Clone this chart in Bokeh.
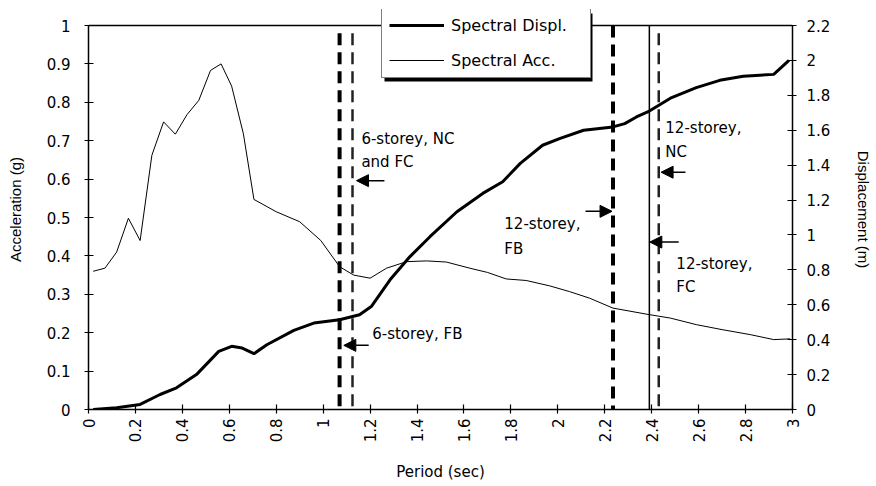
import math
from bokeh.plotting import figure
from bokeh.models import (Range1d, LinearAxis, FixedTicker, Legend, LegendItem,
                          Arrow, NormalHead, Label, BoxAnnotation)
from bokeh.embed import file_html
from bokeh.resources import INLINE

# ---------------- data ----------------
PERIOD_ACC = [0.02, 0.07, 0.12, 0.17, 0.22, 0.27, 0.32, 0.37, 0.42, 0.47, 0.52,
              0.565, 0.61, 0.66, 0.705, 0.80, 0.90, 0.99, 1.07, 1.13, 1.20,
              1.27, 1.355, 1.44, 1.525, 1.625, 1.70, 1.78, 1.865, 1.965, 2.05,
              2.135, 2.235, 2.39, 2.48, 2.59, 2.70, 2.82, 2.92, 2.99]
ACC = [0.36, 0.368, 0.41, 0.498, 0.44, 0.662, 0.749, 0.717, 0.768, 0.805, 0.883,
       0.90, 0.842, 0.718, 0.547, 0.515, 0.489, 0.44, 0.372, 0.35, 0.342,
       0.368, 0.385, 0.387, 0.384, 0.368, 0.357, 0.34, 0.336, 0.322, 0.307,
       0.29, 0.264, 0.247, 0.238, 0.221, 0.208, 0.195, 0.182, 0.184]

PERIOD_DISP = [0.02, 0.12, 0.22, 0.305, 0.375, 0.46, 0.555, 0.61, 0.655, 0.705,
               0.76, 0.875, 0.96, 1.07, 1.155, 1.205, 1.285, 1.37, 1.455, 1.57,
               1.68, 1.765, 1.84, 1.935, 2.01, 2.11, 2.235, 2.285, 2.335, 2.39,
               2.485, 2.59, 2.69, 2.79, 2.92, 2.985]
DISP = [0.0, 0.01, 0.029, 0.086, 0.124, 0.2, 0.333, 0.362, 0.352, 0.32,
        0.371, 0.453, 0.495, 0.514, 0.543, 0.59, 0.743, 0.876, 0.99, 1.133,
        1.238, 1.305, 1.41, 1.514, 1.553, 1.6, 1.619, 1.638, 1.676, 1.71,
        1.787, 1.844, 1.886, 1.909, 1.92, 2.0]

SERIES_NAMES = ["Spectral Displ.", "Spectral Acc."]

X_TICKS = [0, 0.2, 0.4, 0.6, 0.8, 1, 1.2, 1.4, 1.6, 1.8, 2, 2.2, 2.4, 2.6, 2.8, 3]
X_TICK_LABELS = ["0", "0.2", "0.4", "0.6", "0.8", "1", "1.2", "1.4", "1.6", "1.8",
                 "2", "2.2", "2.4", "2.6", "2.8", "3"]
ACC_TICKS = [0, 0.1, 0.2, 0.3, 0.4, 0.5, 0.6, 0.7, 0.8, 0.9, 1]
ACC_TICK_LABELS = ["0", "0.1", "0.2", "0.3", "0.4", "0.5", "0.6", "0.7", "0.8", "0.9", "1"]
DISP_TICKS = [0, 0.2, 0.4, 0.6, 0.8, 1, 1.2, 1.4, 1.6, 1.8, 2, 2.2]
DISP_TICK_LABELS = ["0", "0.2", "0.4", "0.6", "0.8", "1", "1.2", "1.4", "1.6", "1.8", "2", "2.2"]

X_MAX = 3
ACC_MAX = 1
DISP_MAX = 2.2

# building periods (vertical markers)
T_6_FB = 1.07
T_6_NC_FC = 1.125
T_12_FB = 2.235
T_12_FC = 2.39
T_12_NC = 2.43

FONT = "DejaVu Sans"
AXIS_FONT = "Liberation Sans"

# frame extends 16 px above the plot box so the legend can overhang the top edge
HEAD = 400 / 384

# ---------------- figure ----------------
p = figure(width=876, height=486, output_backend="svg", toolbar_location=None,
           x_range=Range1d(0, X_MAX), y_range=Range1d(0, ACC_MAX * HEAD),
           min_border_left=88, min_border_right=84, min_border_top=9,
           min_border_bottom=77, background_fill_color="white",
           border_fill_color="white")
p.extra_y_ranges = {"disp": Range1d(0, DISP_MAX * HEAD)}
p.xgrid.visible = False
p.ygrid.visible = False
p.outline_line_color = None

right_axis = LinearAxis(y_range_name="disp")
p.add_layout(right_axis, "right")

def style_axis(ax, ticks, labels):
    ax.ticker = FixedTicker(ticks=ticks)
    ax.major_label_overrides = dict(zip(ticks, labels))
    ax.bounds = (ticks[0], ticks[-1])
    ax.axis_line_color = "black"
    ax.axis_line_width = 1.5
    ax.major_tick_line_color = "black"
    ax.major_tick_line_width = 1.2
    ax.major_tick_in = 5
    ax.major_tick_out = 4
    ax.minor_tick_line_color = None
    ax.major_label_text_font = FONT
    ax.major_label_text_font_size = "15px"
    ax.major_label_text_color = "black"
    ax.axis_label_text_font_style = "normal"
    ax.axis_label_text_color = "black"

style_axis(p.xaxis[0], X_TICKS, X_TICK_LABELS)
p.xaxis[0].major_label_orientation = math.pi / 2
p.xaxis[0].major_label_standoff = 5
p.xaxis[0].axis_label = "Period (sec)"
p.xaxis[0].axis_label_text_font = FONT
p.xaxis[0].axis_label_text_font_size = "15px"
p.xaxis[0].axis_label_standoff = 18

style_axis(p.yaxis[0], ACC_TICKS, ACC_TICK_LABELS)
p.yaxis[0].major_label_standoff = 14
p.yaxis[0].axis_label = "Acceleration (g)"
p.yaxis[0].axis_label_text_font = AXIS_FONT
p.yaxis[0].axis_label_text_font_size = "15px"
p.yaxis[0].axis_label_standoff = 20

style_axis(right_axis, DISP_TICKS, DISP_TICK_LABELS)
right_axis.major_label_standoff = 10
right_axis.axis_label = "Displacement (m)"
right_axis.axis_label_text_font = AXIS_FONT
right_axis.axis_label_text_font_size = "15px"
right_axis.axis_label_standoff = 22

# top edge of the plot box
p.segment(x0=[0], y0=[ACC_MAX], x1=[X_MAX], y1=[ACC_MAX], line_color="black",
          line_width=1.5)

# ---------------- vertical period markers ----------------
p.segment(x0=[T_6_FB], y0=[0.98], x1=[T_6_FB], y1=[0], line_color="black",
          line_width=4, line_dash="12 7")
p.segment(x0=[T_6_NC_FC], y0=[0.98], x1=[T_6_NC_FC], y1=[0], line_color="#222222",
          line_width=2.5, line_dash="12 7")
p.segment(x0=[T_12_FB], y0=[1], x1=[T_12_FB], y1=[0], line_color="black",
          line_width=4, line_dash="12 7")
p.segment(x0=[T_12_FC], y0=[1], x1=[T_12_FC], y1=[0], line_color="black",
          line_width=1.5)
p.segment(x0=[T_12_NC], y0=[0.98], x1=[T_12_NC], y1=[0], line_color="#222222",
          line_width=2.5, line_dash="12 7")

# ---------------- curves ----------------
r_disp = p.line(PERIOD_DISP, DISP, line_width=3, line_color="black", y_range_name="disp")
r_acc = p.line(PERIOD_ACC, ACC, line_width=1, line_color="black")

# ---------------- annotations ----------------
ARROWS = [  # (tail x, tip x, y) in data units (period, acceleration)
    (1.261, 1.142, 0.596),
    (1.194, 1.088, 0.167),
    (2.118, 2.231, 0.516),
    (2.544, 2.440, 0.618),
    (2.515, 2.392, 0.436),
]
for xs, xe, y in ARROWS:
    p.add_layout(Arrow(end=NormalHead(size=12, fill_color="black", line_color="black"),
                       x_start=xs, y_start=y, x_end=xe, y_end=y,
                       line_color="black", line_width=1.5))

LABELS = [  # (x, y, text)
    (1.163, 0.705, "6-storey, NC"),
    (1.163, 0.644, "and FC"),
    (1.209, 0.197, "6-storey, FB"),
    (1.772, 0.482, "12-storey,"),
    (1.772, 0.418, "FB"),
    (2.458, 0.734, "12-storey,"),
    (2.458, 0.670, "NC"),
    (2.505, 0.379, "12-storey,"),
    (2.505, 0.318, "FC"),
]
for x, y, t in LABELS:
    p.add_layout(Label(x=x, y=y, text=t, text_font=FONT, text_font_size="15px",
                       text_baseline="middle", text_align="left", text_color="black"))

# legend drop shadow
p.add_layout(BoxAnnotation(left=384, right=592, top=13, bottom=81,
                           left_units="canvas", right_units="canvas",
                           top_units="canvas", bottom_units="canvas",
                           fill_color="black", fill_alpha=1, line_color=None))

legend = Legend(items=[LegendItem(label=SERIES_NAMES[0], renderers=[r_disp]),
                       LegendItem(label=SERIES_NAMES[1], renderers=[r_acc])],
                location=(293, 331), orientation="vertical", padding=7, spacing=15,
                margin=0, glyph_width=55, glyph_height=20, label_height=20,
                label_width=132, label_standoff=7, label_text_font=FONT,
                label_text_font_size="16px", label_text_color="black",
                border_line_color="black", border_line_width=1,
                background_fill_color="white", background_fill_alpha=1)
p.add_layout(legend, "center")

open("out.html", "w").write(file_html(p, INLINE))
